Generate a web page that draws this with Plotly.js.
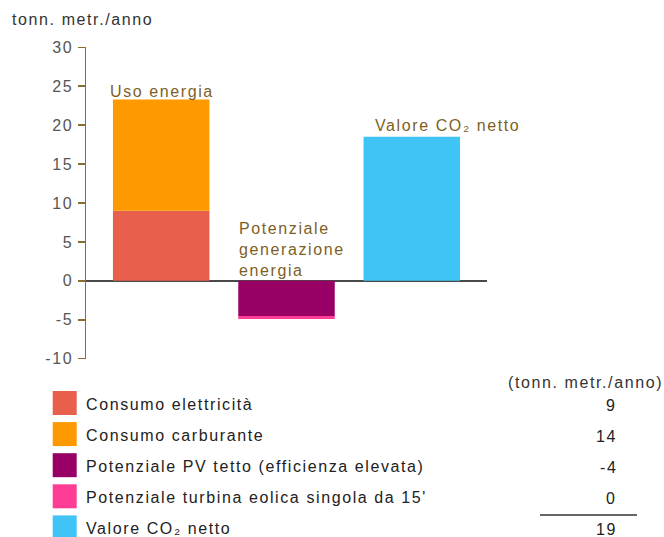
<!DOCTYPE html>
<html>
<head>
<meta charset="utf-8">
<script src="https://cdn.plot.ly/plotly-3.0.1.min.js"></script>
<style>
  html, body { margin: 0; padding: 0; background: #fff; }
  #chart { width: 664px; height: 537px; }
  /* applied to every svg text, including Plotly's hidden measuring node */
  text { letter-spacing: 1.6px; }
</style>
</head>
<body>
<div id="chart"></div>
<script>
// ---- data ----
const categories = ['uso', 'generazione', 'netto'];
const categoryLabels = ['Uso energia', 'Potenziale<br>generazione<br>energia', 'Valore CO₂ netto'];
const seriesNames = [
  'Consumo elettricità',
  'Consumo carburante',
  'Potenziale PV tetto (efficienza elevata)',
  "Potenziale turbina eolica singola da 15'",
  'Valore CO₂ netto'
];
const seriesCategory = [0, 0, 1, 1, 2];
const seriesValues = [9.0, 14.3, -4.5, -0.4, 18.5];
const seriesColors = ['#E85F4B', '#FF9900', '#990066', '#FF3D97', '#40C4F6'];
const yTickValues = [-10, -5, 0, 5, 10, 15, 20, 25, 30];
const unitLabel = 'tonn. metr./anno';
const tableHeader = '(tonn. metr./anno)';

// ---- page geometry helpers (pixel -> paper fraction) ----
const W = 664, H = 537;
const px = x => x / W;
const py = y => 1 - y / H;

const FONT = 'Liberation Sans, Arial, sans-serif';
const BAR_W = 0.77;

// stacked bars: one trace per series, placed on its category
const traces = seriesNames.map((name, i) => ({
  type: 'bar',
  name: name,
  x: [categories[seriesCategory[i]]],
  y: [seriesValues[i]],
  width: BAR_W,
  marker: { color: seriesColors[i], line: { width: 0 } },
  hoverinfo: 'skip'
}));

// stack totals per category, for placing the category captions
const posTop = categories.map((c, k) =>
  seriesValues.reduce((s, v, i) => s + (seriesCategory[i] === k && v > 0 ? v : 0), 0));

const brown = '#7d5f26';
const annotations = [
  // unit label above the y axis
  { xref: 'paper', yref: 'paper', x: px(10), y: py(20), xanchor: 'left', yanchor: 'middle',
    text: unitLabel, showarrow: false, font: { family: FONT, size: 16, color: '#333' } },
  // category captions
  { xref: 'x', yref: 'y', x: 0 - BAR_W / 2, y: posTop[0], xanchor: 'left', yanchor: 'bottom', xshift: -5, yshift: -3,
    text: categoryLabels[0], showarrow: false, font: { family: FONT, size: 16, color: brown } },
  { xref: 'x', yref: 'y', x: 1 - BAR_W / 2, y: 0, xanchor: 'left', yanchor: 'bottom', align: 'left', xshift: -1,
    text: categoryLabels[1], showarrow: false, font: { family: FONT, size: 16, color: brown } },
  { xref: 'x', yref: 'y', x: 2 - BAR_W / 2, y: posTop[2], xanchor: 'left', yanchor: 'bottom', xshift: 9, yshift: 1,
    text: categoryLabels[2], showarrow: false, font: { family: FONT, size: 16, color: brown } },
  // table header
  { xref: 'paper', yref: 'paper', x: px(665), y: py(382), xanchor: 'right', yanchor: 'middle',
    text: tableHeader, showarrow: false, font: { family: FONT, size: 16, color: '#333' } }
];

const shapes = [];
const ROW0 = 391, ROW_H = 31.1, SW = 24;
seriesNames.forEach((name, i) => {
  const top = ROW0 + i * ROW_H;
  shapes.push({ type: 'rect', xref: 'paper', yref: 'paper',
    x0: px(52.7), x1: px(52.7 + SW), y0: py(top + SW), y1: py(top),
    fillcolor: seriesColors[i], line: { width: 0 } });
  annotations.push({ xref: 'paper', yref: 'paper', x: px(84), y: py(top + SW / 2 + 1),
    xanchor: 'left', yanchor: 'middle', text: name, showarrow: false,
    font: { family: FONT, size: 16, color: '#222' } });
  annotations.push({ xref: 'paper', yref: 'paper', x: px(619), y: py(top + SW / 2 + 2),
    xanchor: 'right', yanchor: 'middle', text: String(Math.round(seriesValues[i]) || 0), showarrow: false,
    font: { family: FONT, size: 16, color: '#222' } });
});
// rule above the net total
shapes.push({ type: 'line', xref: 'paper', yref: 'paper',
  x0: px(540), x1: px(637), y0: py(515), y1: py(515), line: { color: '#333', width: 1.5 } });

const layout = {
  width: W, height: H,
  margin: { l: 0, r: 0, t: 0, b: 0 },
  paper_bgcolor: '#fff', plot_bgcolor: '#fff',
  barmode: 'relative',
  showlegend: false,
  xaxis: {
    domain: [px(86), px(487)],
    type: 'category',
    range: [-0.6, 2.6],
    showticklabels: false, ticks: '', showgrid: false, showline: false,
    zeroline: false, fixedrange: true
  },
  yaxis: {
    domain: [py(358.7), py(47.3)],
    range: [-10, 30],
    tickvals: yTickValues,
    ticktext: yTickValues.map(String),
    ticks: 'outside', ticklen: 7, tickwidth: 1.5, tickcolor: '#8c6d31',
    showline: true, linecolor: '#8c6d31', linewidth: 1.5,
    showgrid: false,
    zeroline: true, zerolinecolor: '#4a4a4a', zerolinewidth: 2,
    tickfont: { family: FONT, size: 16, color: '#555' },
    ticklabelstandoff: 1,
    fixedrange: true
  },
  annotations: annotations,
  shapes: shapes
};

Plotly.newPlot('chart', traces, layout, { staticPlot: true, displayModeBar: false });
</script>
</body>
</html>
